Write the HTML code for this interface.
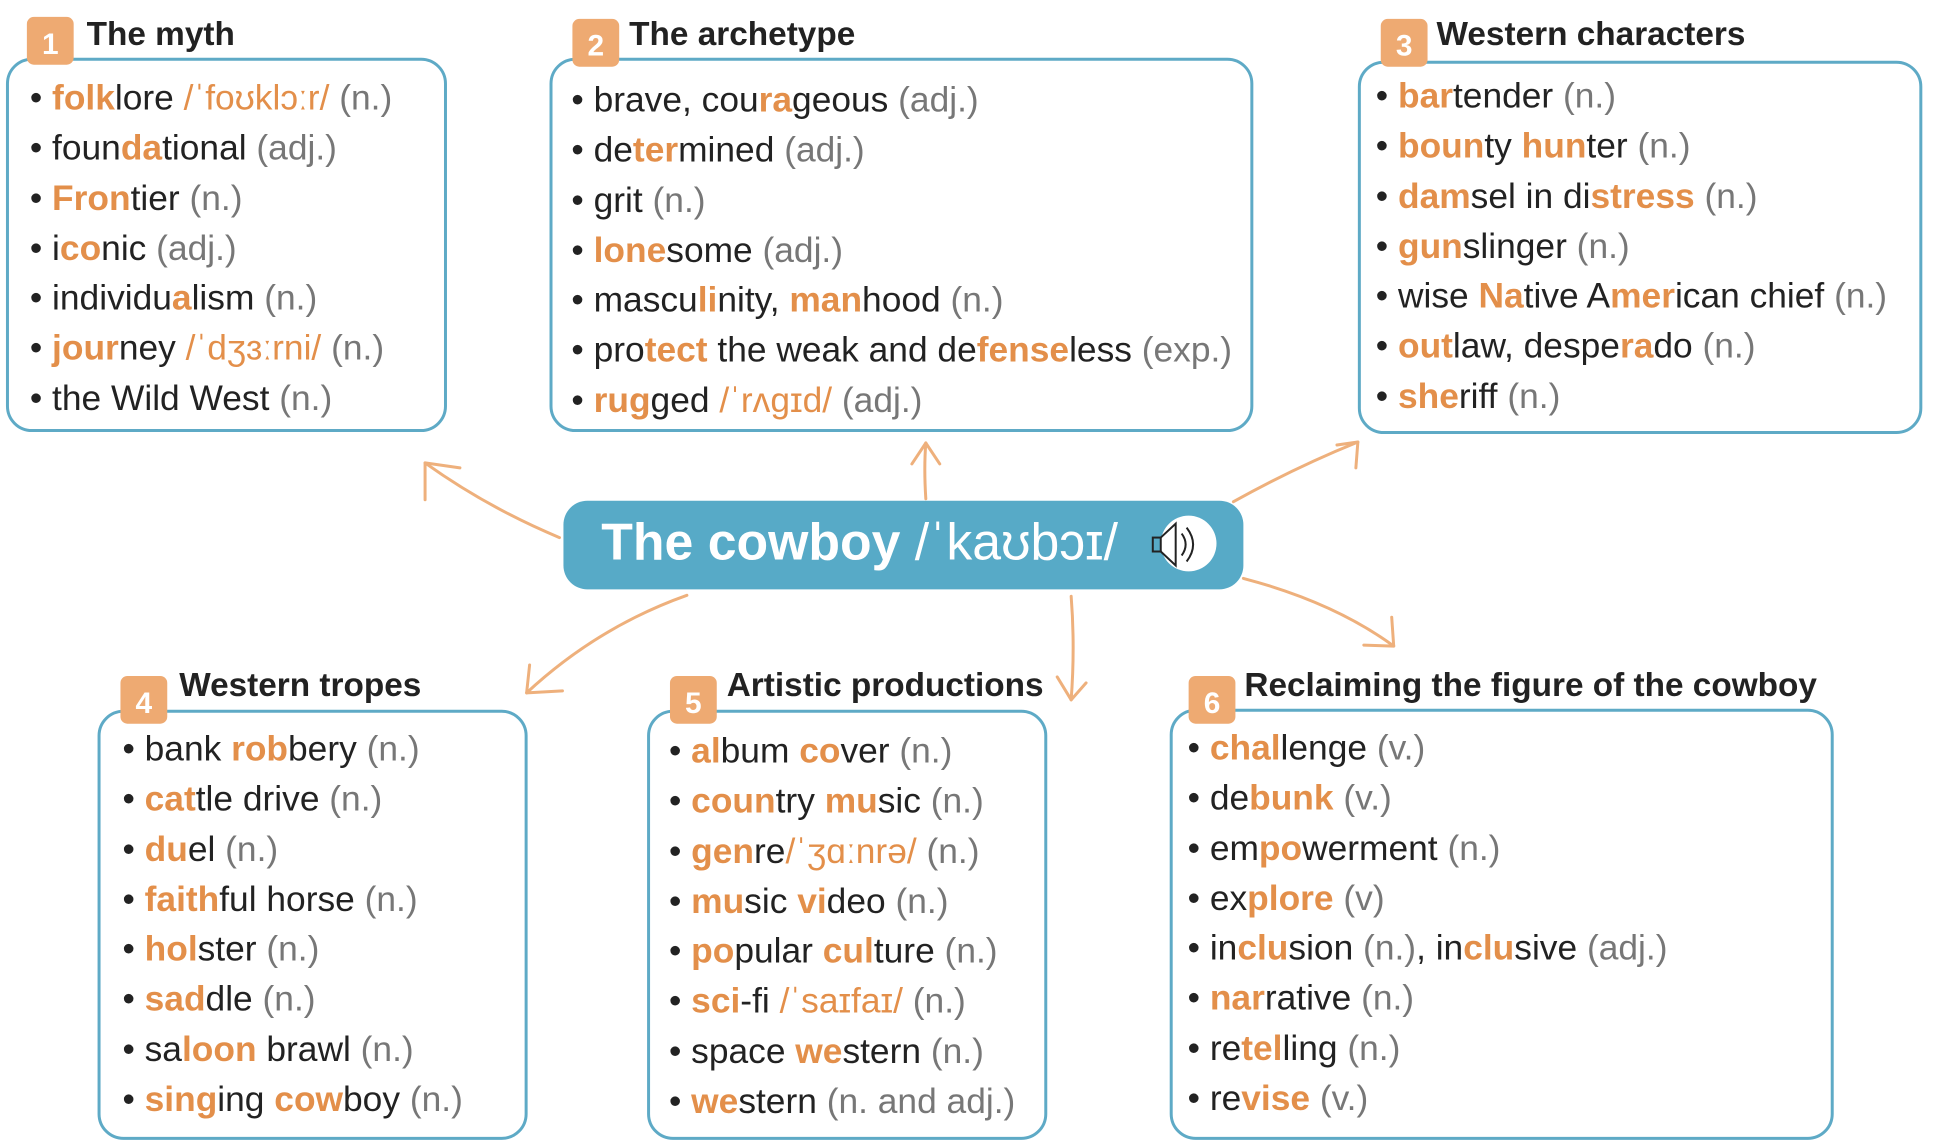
<!DOCTYPE html>
<html><head><meta charset="utf-8"><style>
body{margin:0;width:1940px;height:1146px;background:#fff;position:relative;overflow:hidden;font-family:"Liberation Sans Narrow","Liberation Sans","DejaVu Sans",sans-serif;}
#w{position:absolute;left:0;top:0;width:1940px;height:1146px;transform:scale(0.9955);transform-origin:0 0;}
.box{position:absolute;border:3px solid #5eaac6;border-radius:26px;box-sizing:border-box;}
.badge{position:absolute;width:47px;height:48px;background:#eeaa72;border-radius:7px;color:#fff;font:bold 30px "Liberation Sans",sans-serif;text-align:center;line-height:56px;}
.title{position:absolute;font:bold 33.5px "Liberation Sans Narrow","Liberation Sans",sans-serif;color:#222;white-space:nowrap;}
.list{position:absolute;font-size:35.5px;color:#222;line-height:50.3px;white-space:nowrap;}
.o{color:#e38f4a;font-weight:bold}
.p{color:#e38f4a}
.g{color:#777}
</style></head><body><div id="w">
<svg width="1940" height="1146" style="position:absolute;left:0;top:0" fill="none" stroke="#eeb07c" stroke-width="3" stroke-linecap="round">
<path d="M562,540 Q490,510 427,465"/><path d="M427,465 L427,502 M427,465 L462,470"/>
<path d="M930,501 Q928,470 930,445"/><path d="M930,445 L916,466 M930,445 L944,466"/>
<path d="M1239,504 Q1300,470 1364,444"/><path d="M1364,444 L1343,447 M1364,444 L1362,470"/>
<path d="M690,598 Q600,630 529,696"/><path d="M529,696 L532,668 M529,696 L565,694"/>
<path d="M1076,599 Q1080,650 1076,703"/><path d="M1076,703 L1062,680 M1076,703 L1091,686"/>
<path d="M1249,581 Q1340,605 1400,649"/><path d="M1400,649 L1370,648 M1400,649 L1398,620"/>
</svg>

<div class="box" style="left:6px;top:58px;width:443px;height:376px"></div>
<div class="badge" style="left:27px;top:17px">1</div>
<div class="title" style="left:87px;top:16px">The myth</div>
<div class="list" style="left:30px;top:73px">
• <span class="o">folk</span>lore <span class="p">/ˈfoʊklɔːr/</span> <span class="g">(n.)</span><br>
• foun<span class="o">da</span>tional <span class="g">(adj.)</span><br>
• <span class="o">Fron</span>tier <span class="g">(n.)</span><br>
• i<span class="o">co</span>nic <span class="g">(adj.)</span><br>
• individu<span class="o">a</span>lism <span class="g">(n.)</span><br>
• <span class="o">jour</span>ney <span class="p">/ˈdʒɜːrni/</span> <span class="g">(n.)</span><br>
• the Wild West <span class="g">(n.)</span></div>

<div class="box" style="left:552px;top:58px;width:707px;height:376px"></div>
<div class="badge" style="left:575px;top:19px">2</div>
<div class="title" style="left:632px;top:16px">The archetype</div>
<div class="list" style="left:574px;top:75px">
• brave, cou<span class="o">ra</span>geous <span class="g">(adj.)</span><br>
• de<span class="o">ter</span>mined <span class="g">(adj.)</span><br>
• grit <span class="g">(n.)</span><br>
• <span class="o">lone</span>some <span class="g">(adj.)</span><br>
• mascu<span class="o">li</span>nity, <span class="o">man</span>hood <span class="g">(n.)</span><br>
• pro<span class="o">tect</span> the weak and de<span class="o">fense</span>less <span class="g">(exp.)</span><br>
• <span class="o">rug</span>ged <span class="p">/ˈrʌɡɪd/</span> <span class="g">(adj.)</span></div>

<div class="box" style="left:1364px;top:61px;width:567px;height:375px"></div>
<div class="badge" style="left:1387px;top:19px">3</div>
<div class="title" style="left:1443px;top:16px">Western characters</div>
<div class="list" style="left:1382px;top:71px">
• <span class="o">bar</span>tender <span class="g">(n.)</span><br>
• <span class="o">boun</span>ty <span class="o">hun</span>ter <span class="g">(n.)</span><br>
• <span class="o">dam</span>sel in di<span class="o">stress</span> <span class="g">(n.)</span><br>
• <span class="o">gun</span>slinger <span class="g">(n.)</span><br>
• wise <span class="o">Na</span>tive A<span class="o">mer</span>ican chief <span class="g">(n.)</span><br>
• <span class="o">out</span>law, despe<span class="o">ra</span>do <span class="g">(n.)</span><br>
• <span class="o">she</span>riff <span class="g">(n.)</span></div>

<div style="position:absolute;left:566px;top:503px;width:683px;height:89px;background:#57aac7;border-radius:24px"></div>
<div style="position:absolute;left:604px;top:515px;color:#fff;font:bold 52px 'Liberation Sans Narrow','Liberation Sans',sans-serif;white-space:nowrap">The cowboy <span style="font-weight:normal">/ˈkaʊbɔɪ/</span></div>
<div style="position:absolute;left:1166px;top:518px;width:56px;height:56px;border-radius:50%;background:#fff"></div>
<svg width="70" height="70" style="position:absolute;left:1153px;top:510px" fill="none" stroke="#222" stroke-width="2"><rect x="5" y="30" width="8" height="14"/><path d="M13,30 L28,16 L28,58 L13,44"/><path d="M34,26 Q42,37 34,48"/><path d="M39,20 Q52,37 39,54"/></svg>

<div class="box" style="left:98px;top:713px;width:432px;height:432px"></div>
<div class="badge" style="left:121px;top:679px">4</div>
<div class="title" style="left:180px;top:670px">Western tropes</div>
<div class="list" style="left:123px;top:727px">
• bank <span class="o">rob</span>bery <span class="g">(n.)</span><br>
• <span class="o">cat</span>tle drive <span class="g">(n.)</span><br>
• <span class="o">du</span>el <span class="g">(n.)</span><br>
• <span class="o">faith</span>ful horse <span class="g">(n.)</span><br>
• <span class="o">hol</span>ster <span class="g">(n.)</span><br>
• <span class="o">sad</span>dle <span class="g">(n.)</span><br>
• sa<span class="o">loon</span> brawl <span class="g">(n.)</span><br>
• <span class="o">sing</span>ing <span class="o">cow</span>boy <span class="g">(n.)</span></div>

<div class="box" style="left:650px;top:713px;width:402px;height:432px"></div>
<div class="badge" style="left:673px;top:679px">5</div>
<div class="title" style="left:730px;top:670px">Artistic productions</div>
<div class="list" style="left:672px;top:729px">
• <span class="o">al</span>bum <span class="o">co</span>ver <span class="g">(n.)</span><br>
• <span class="o">coun</span>try <span class="o">mu</span>sic <span class="g">(n.)</span><br>
• <span class="o">gen</span>re<span class="p">/ˈʒɑːnrə/</span> <span class="g">(n.)</span><br>
• <span class="o">mu</span>sic <span class="o">vi</span>deo <span class="g">(n.)</span><br>
• <span class="o">po</span>pular <span class="o">cul</span>ture <span class="g">(n.)</span><br>
• <span class="o">sci</span>-fi <span class="p">/ˈsaɪfaɪ/</span> <span class="g">(n.)</span><br>
• space <span class="o">we</span>stern <span class="g">(n.)</span><br>
• <span class="o">we</span>stern <span class="g">(n. and adj.)</span></div>

<div class="box" style="left:1175px;top:712px;width:667px;height:433px"></div>
<div class="badge" style="left:1194px;top:679px">6</div>
<div class="title" style="left:1250px;top:670px">Reclaiming the figure of the cowboy</div>
<div class="list" style="left:1193px;top:726px">
• <span class="o">chal</span>lenge <span class="g">(v.)</span><br>
• de<span class="o">bunk</span> <span class="g">(v.)</span><br>
• em<span class="o">po</span>werment <span class="g">(n.)</span><br>
• ex<span class="o">plore</span> <span class="g">(v)</span><br>
• in<span class="o">clu</span>sion <span class="g">(n.)</span>, in<span class="o">clu</span>sive <span class="g">(adj.)</span><br>
• <span class="o">nar</span>rative <span class="g">(n.)</span><br>
• re<span class="o">tel</span>ling <span class="g">(n.)</span><br>
• re<span class="o">vise</span> <span class="g">(v.)</span></div>
</div></body></html>
